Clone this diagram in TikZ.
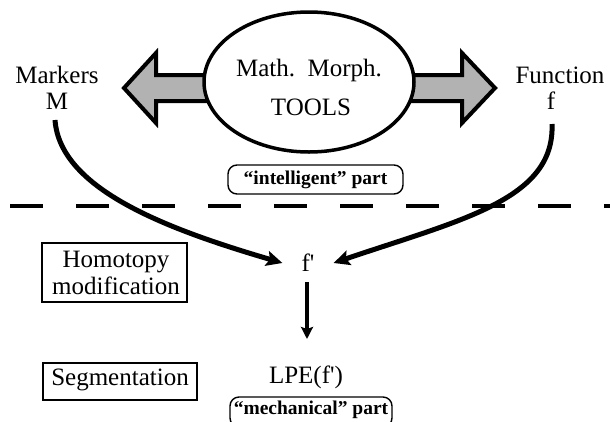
\documentclass[tikz,border=0pt]{standalone}
\usepackage{fontspec}
\setmainfont{Liberation Serif}
\usetikzlibrary{shapes.geometric,arrows.meta}

\tikzset{
  lbl/.style={font=\fontsize{25}{27}\selectfont, inner sep=0pt, align=center},
  tag/.style={font=\fontsize{19.5}{21}\selectfont\bfseries, inner sep=0pt},
  fatarrow/.style={draw=black, line width=4pt, line join=miter, fill=black!30},
  flow/.style={line width=5pt, -{Stealth[length=16pt,width=15pt,inset=3pt]}},
  stepbox/.style={draw, line width=1.4pt, inner sep=0pt},
  partbox/.style={draw, line width=1.4pt, rounded corners=9pt},
}

\begin{document}
\begin{tikzpicture}[x=1pt,y=-1pt]
\useasboundingbox (0,0) rectangle (610,421);

% fat double arrow pointing out of the tools ellipse
\draw[fatarrow] (212,75) -- (156,75) -- (156,53) -- (124,88) -- (156,123)
  -- (156,101) -- (212,101) -- cycle;
\draw[fatarrow] (406,75) -- (462,75) -- (462,53) -- (495,88) -- (462,123)
  -- (462,101) -- (406,101) -- cycle;

% the tools ellipse
\node[ellipse, draw, line width=3.5pt, fill=white, minimum width=210pt,
      minimum height=140pt, inner sep=0pt] (tools) at (309,82) {};
\node[lbl] (math) at (309,70) {Math.\ \ Morph.};
\node[lbl] (tl) at (311,107) {TOOLS};

% inputs
\node[lbl] (markers) at (57,75) {Markers};
\node[lbl] (m) at (57,101) {M};
\node[lbl] (function) at (560,75) {Function};
\node[lbl] (f) at (551,101) {f};
\coordinate (mstart) at (55,120);
\coordinate (fstart) at (552,124);

% upper part label
\node[partbox, minimum width=175pt, minimum height=29pt, inner sep=0pt]
  (intel) at (315.5,179.5) {};
\node[tag] (inteltxt) at (315.5,180) {``intelligent'' part};

% separating dashed line
\coordinate (dl) at (10,206);
\coordinate (dr) at (610,206);
\draw[line width=4.5pt, dash pattern=on 33pt off 33pt] (dl) -- (dr);

% modified function
\node[lbl, inner xsep=19pt, inner ysep=10pt] (fp) at (308,263) {f\textquotesingle};

\draw[flow] (mstart) .. controls (60,190) and (170,230) .. (fp.west);
\draw[flow] (fstart) .. controls (555,200) and (460,220) .. (fp.east);

% steps
\node[stepbox, minimum width=145pt, minimum height=59pt] (homo) at (114.5,272.5)
  {};
\node[lbl] (homotxt) at (116,273) {Homotopy\\modification};
\node[stepbox, minimum width=154pt, minimum height=37pt] (seg) at (120,381.5) {};
\node[lbl] (segtxt) at (120,380) {Segmentation};

% watershed
\node[lbl] (lpe) at (306,377) {LPE(f\textquotesingle)};
\coordinate (lpetop) at (307,339);
\draw[line width=4pt, -{Stealth[length=12pt,width=12pt,inset=2pt]}]
  (fp.south -| lpetop) -- (lpetop);

% lower part label
\node[partbox, minimum width=162pt, minimum height=30pt, inner sep=0pt]
  (mech) at (311,412) {};
\node[tag] (mechtxt) at (311,410) {``mechanical'' part};
\end{tikzpicture}
\end{document}
